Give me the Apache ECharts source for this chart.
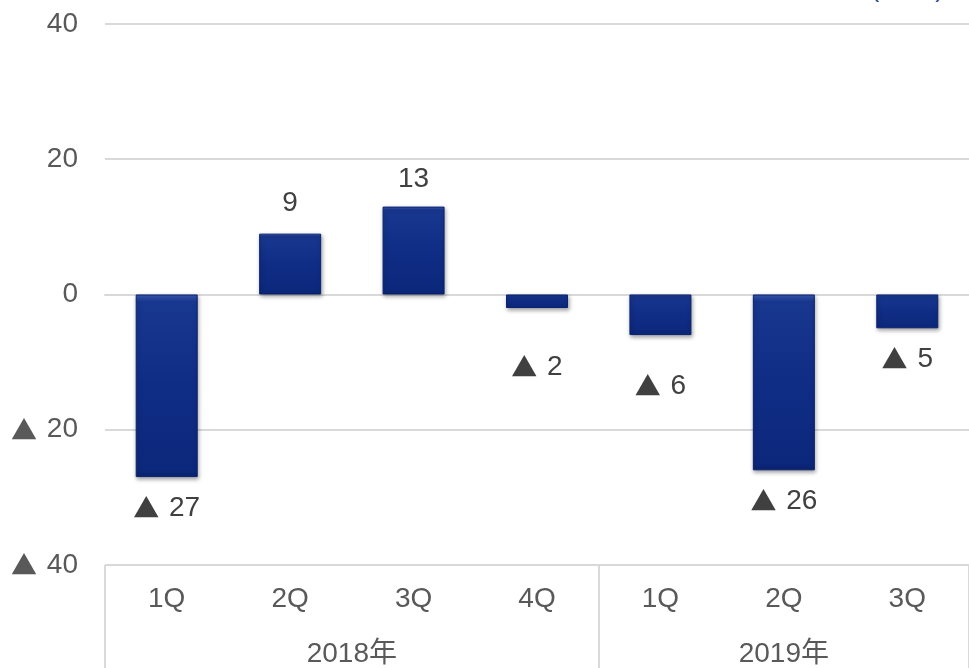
<!DOCTYPE html>
<html>
<head>
<meta charset="utf-8">
<script src="https://cdn.jsdelivr.net/npm/echarts@6/dist/echarts.min.js"></script>
<style>
  html, body { margin: 0; padding: 0; background: #fff; }
  #chart { width: 969px; height: 668px; }
</style>
</head>
<body>
<div id="chart"></div>
<script>
// Quarterly change, grouped by year
const quarters = ['1Q', '2Q', '3Q', '4Q', '1Q', '2Q', '3Q'];
const years = ['2018年', '2019年'];
const yearSpans = [4, 3];
const values = [-27, 9, 13, -2, -6, -26, -5];
const unitText = '(億円)';

// gap between each bar end and its value label
const labelGap = [17, 16, 13, 45, 37, 17, 17];

// negative numbers are written with a leading triangle
const fmt = v => (v < 0 ? '{tri|▲} ' + (-v) : String(v));

const font = '"Liberation Sans", Arial, "Noto Sans CJK JP", sans-serif';
const triFont = '"Noto Sans CJK JP", sans-serif';
const fs = 28;

// year group boundaries and centres on a 0..N value scale
const bounds = [0];
yearSpans.forEach(s => bounds.push(bounds[bounds.length - 1] + s));
const centres = years.map((_, i) => (bounds[i] + bounds[i + 1]) / 2);

// bevelled navy fill
const barColor = {
  type: 'linear', x: 0, y: 0, x2: 0, y2: 1,
  colorStops: [
    { offset: 0, color: '#3a5cb8' },
    { offset: 0.04, color: '#18378f' },
    { offset: 0.5, color: '#102d86' },
    { offset: 0.96, color: '#0c287c' },
    { offset: 1, color: '#0a2270' }
  ]
};

const triRich = color => ({ tri: { fontFamily: triFont, fontSize: 26, color: color, padding: [0, 2, 0, 0] } });

const chart = echarts.init(document.getElementById('chart'), null, { renderer: 'canvas' });
chart.setOption({
  animation: false,
  backgroundColor: '#ffffff',
  grid: { left: 105, width: 868, top: 24, height: 542, containLabel: false },
  graphic: [{
    type: 'text', left: 870, top: -26,
    style: { text: unitText, font: fs + 'px ' + font, fill: '#2f5597' }
  }],
  xAxis: [{
    type: 'category',
    data: quarters,
    position: 'bottom',
    axisLine: { show: true, lineStyle: { color: '#d9d9d9', width: 2 } },
    axisTick: { show: false },
    axisLabel: { color: '#595959', fontSize: fs, fontFamily: font, margin: 20 },
    splitLine: { show: false }
  }, {
    type: 'value',
    min: 0, max: bounds[bounds.length - 1],
    position: 'bottom',
    axisLine: { show: false },
    axisTick: { show: true, customValues: bounds, length: 104, lineStyle: { color: '#d9d9d9', width: 2 } },
    axisLabel: {
      show: true, customValues: centres, color: '#595959', fontSize: fs, fontFamily: font, margin: 75,
      formatter: v => { const i = centres.indexOf(v); return i >= 0 ? years[i] : ''; }
    },
    splitLine: { show: false }
  }],
  yAxis: {
    type: 'value',
    min: -40, max: 40, interval: 20,
    axisLine: { show: false },
    axisTick: { show: false },
    axisLabel: {
      color: '#595959', fontSize: fs, fontFamily: font, margin: 27, formatter: fmt,
      rich: triRich('#595959')
    },
    splitLine: { show: true, lineStyle: { color: '#d9d9d9', width: 2 } }
  },
  series: [{
    type: 'bar',
    xAxisIndex: 0,
    barWidth: 62,
    data: values.map((v, i) => ({
      value: v,
      label: { position: v < 0 ? 'bottom' : 'top', distance: labelGap[i] }
    })),
    itemStyle: {
      color: barColor,
      borderColor: '#0a2270', borderWidth: 1,
      shadowColor: 'rgba(0,0,0,0.35)', shadowBlur: 4, shadowOffsetX: 1, shadowOffsetY: 2
    },
    label: {
      show: true, color: '#404040', fontSize: fs, fontFamily: font,
      formatter: p => fmt(p.value),
      rich: triRich('#404040')
    }
  }]
});
</script>
</body>
</html>
